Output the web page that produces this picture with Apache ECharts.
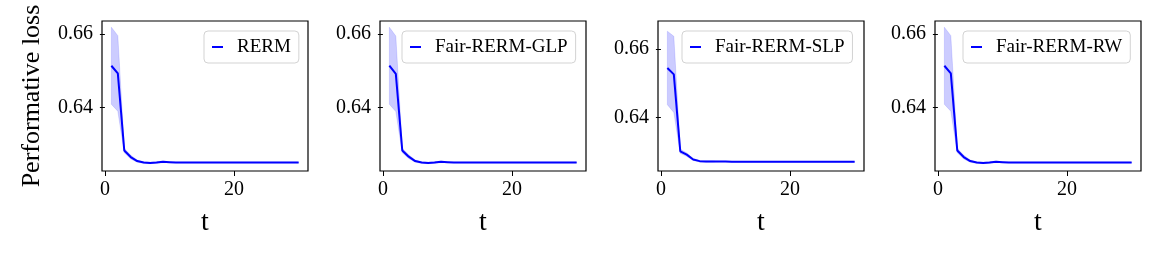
<!DOCTYPE html>
<html>
<head>
<meta charset="utf-8">
<script src="https://cdn.jsdelivr.net/npm/echarts@6/dist/echarts.min.js"></script>
<style>
html,body{margin:0;padding:0;background:#fff;}
#chart{width:1163px;height:262px;}
</style>
</head>
<body>
<div id="chart"></div>
<script>
// ---- data ----
var t = [1,2,3,4,5,6,7,8,9,10,11,12,13,14,15,16,17,18,19,20,21,22,23,24,25,26,27,28,29,30];
var seriesNames = ['RERM','Fair-RERM-GLP','Fair-RERM-SLP','Fair-RERM-RW'];
var rermMean = [0.6514,0.6493,0.6283,0.6265,0.6254,0.6250,0.6249,0.6250,0.6252,0.6251,0.6250,0.6250,0.6250,0.6250,0.6250,0.6250,0.6250,0.6250,0.6250,0.6250,0.6250,0.6250,0.6250,0.6250,0.6250,0.6250,0.6250,0.6250,0.6250,0.6250];
var rermStd  = [0.0105,0.0103,0.0006,0.0005,0.0003,0.0002,0.0002,0.0002,0.0002,0.0001,0.0001,0.0001,0.0001,0.0001,0.0001,0.0001,0.0001,0.0001,0.0001,0.0001,0.0001,0.0001,0.0001,0.0001,0.0001,0.0001,0.0001,0.0001,0.0001,0.0001];
var glpMean  = [0.6514,0.6492,0.6283,0.6266,0.6254,0.6250,0.6249,0.6250,0.6252,0.6251,0.6250,0.6250,0.6250,0.6250,0.6250,0.6250,0.6250,0.6250,0.6250,0.6250,0.6250,0.6250,0.6250,0.6250,0.6250,0.6250,0.6250,0.6250,0.6250,0.6250];
var glpStd   = [0.0105,0.0103,0.0006,0.0005,0.0003,0.0002,0.0002,0.0002,0.0002,0.0001,0.0001,0.0001,0.0001,0.0001,0.0001,0.0001,0.0001,0.0001,0.0001,0.0001,0.0001,0.0001,0.0001,0.0001,0.0001,0.0001,0.0001,0.0001,0.0001,0.0001];
var slpMean  = [0.6545,0.6526,0.6300,0.6290,0.6276,0.6271,0.6270,0.6270,0.6270,0.6270,0.6269,0.6269,0.6269,0.6269,0.6269,0.6269,0.6269,0.6269,0.6269,0.6269,0.6269,0.6269,0.6269,0.6269,0.6269,0.6269,0.6269,0.6269,0.6269,0.6269];
var slpStd   = [0.0108,0.0112,0.0006,0.0005,0.0003,0.0002,0.0002,0.0002,0.0001,0.0001,0.0001,0.0001,0.0001,0.0001,0.0001,0.0001,0.0001,0.0001,0.0001,0.0001,0.0001,0.0001,0.0001,0.0001,0.0001,0.0001,0.0001,0.0001,0.0001,0.0001];
var rwMean   = [0.6514,0.6493,0.6283,0.6265,0.6254,0.6250,0.6249,0.6250,0.6252,0.6251,0.6250,0.6250,0.6250,0.6250,0.6250,0.6250,0.6250,0.6250,0.6250,0.6250,0.6250,0.6250,0.6250,0.6250,0.6250,0.6250,0.6250,0.6250,0.6250,0.6250];
var rwStd    = [0.0105,0.0103,0.0006,0.0005,0.0003,0.0002,0.0002,0.0002,0.0002,0.0001,0.0001,0.0001,0.0001,0.0001,0.0001,0.0001,0.0001,0.0001,0.0001,0.0001,0.0001,0.0001,0.0001,0.0001,0.0001,0.0001,0.0001,0.0001,0.0001,0.0001];
var xTicks = [0, 20];
var yTicks = [0.64, 0.66];
var xLabel = 't';
var yLabel = 'Performative loss';

// ---- layout ----
var FONT = 'Liberation Serif';
var panels = [
  {mean: rermMean, std: rermStd, left: 102, legendLeft: 204, yMin: 0.6227, yMax: 0.6636},
  {mean: glpMean,  std: glpStd,  left: 380, legendLeft: 402, yMin: 0.6227, yMax: 0.6636},
  {mean: slpMean,  std: slpStd,  left: 658, legendLeft: 682, yMin: 0.6242, yMax: 0.6683},
  {mean: rwMean,   std: rwStd,   left: 935, legendLeft: 963, yMin: 0.6227, yMax: 0.6636}
];

function bandRenderer(p) {
  return function (params, api) {
    if (params.dataIndex !== 0) return null;
    var pts = [];
    for (var k = 0; k < t.length; k++) pts.push(api.coord([t[k], p.mean[k] + p.std[k]]));
    for (var k2 = t.length - 1; k2 >= 0; k2--) pts.push(api.coord([t[k2], p.mean[k2] - p.std[k2]]));
    return {
      type: 'polygon',
      shape: {points: pts},
      style: {fill: 'rgba(0,0,255,0.2)', stroke: 'rgba(0,0,255,0.12)', lineWidth: 1}
    };
  };
}

var grids = [], xAxes = [], yAxes = [], series = [], legends = [];
panels.forEach(function (p, i) {
  grids.push({left: p.left, top: 21, width: 206, height: 150, show: true,
    borderColor: '#000', borderWidth: 1.2, backgroundColor: 'transparent',
    containLabel: false, outerBoundsMode: 'none'});
  xAxes.push({
    type: 'value', gridIndex: i, min: -0.45, max: 31.45,
    splitLine: {show: false}, axisLine: {show: false},
    axisTick: {show: true, length: 5, customValues: xTicks, lineStyle: {color: '#000', width: 1}},
    axisLabel: {customValues: xTicks, color: '#000', fontFamily: FONT, fontSize: 20, margin: 9},
    name: xLabel, nameLocation: 'middle', nameGap: 38,
    nameTextStyle: {color: '#000', fontFamily: FONT, fontSize: 28}
  });
  var ya = {
    type: 'value', gridIndex: i, min: p.yMin, max: p.yMax,
    splitLine: {show: false}, axisLine: {show: false},
    axisTick: {show: true, length: 5, customValues: yTicks, lineStyle: {color: '#000', width: 1}},
    axisLabel: {customValues: yTicks, color: '#000', fontFamily: FONT, fontSize: 20, margin: 9,
      formatter: function (v) { return v.toFixed(2); }}
  };
  if (i === 0) {
    ya.name = yLabel; ya.nameLocation = 'middle'; ya.nameGap = 57; ya.nameRotate = 90;
    ya.nameTextStyle = {color: '#000', fontFamily: FONT, fontSize: 26};
  }
  yAxes.push(ya);

  var bandData = t.map(function (x, k) { return [x, p.mean[k] - p.std[k], p.mean[k] + p.std[k]]; });
  var line = t.map(function (x, k) { return [x, p.mean[k]]; });
  series.push({
    name: seriesNames[i] + ' band', type: 'custom', xAxisIndex: i, yAxisIndex: i,
    data: bandData, encode: {x: 0, y: [1, 2]}, renderItem: bandRenderer(p),
    silent: true, clip: true, z: 1
  });
  series.push({
    name: seriesNames[i], type: 'line', xAxisIndex: i, yAxisIndex: i,
    data: line, symbol: 'none', color: '#0000ff',
    lineStyle: {color: '#0000ff', width: 2}, z: 3
  });
  legends.push({
    data: [seriesNames[i]], left: p.legendLeft, top: 31, orient: 'horizontal',
    selectedMode: false, icon: 'rect', itemWidth: 11, itemHeight: 2,
    backgroundColor: 'rgba(255,255,255,0.8)', borderColor: '#d3d3d3', borderWidth: 1,
    borderRadius: 4, padding: [6, 8, 6, 8],
    textStyle: {color: '#000', fontFamily: FONT, fontSize: 19, lineHeight: 20, padding: [0, 0, 0, 9]}
  });
});

var chart = echarts.init(document.getElementById('chart'), null, {renderer: 'canvas'});
chart.setOption({
  animation: false,
  backgroundColor: '#fff',
  textStyle: {fontFamily: FONT},
  grid: grids, xAxis: xAxes, yAxis: yAxes, series: series, legend: legends
});
</script>
</body>
</html>
